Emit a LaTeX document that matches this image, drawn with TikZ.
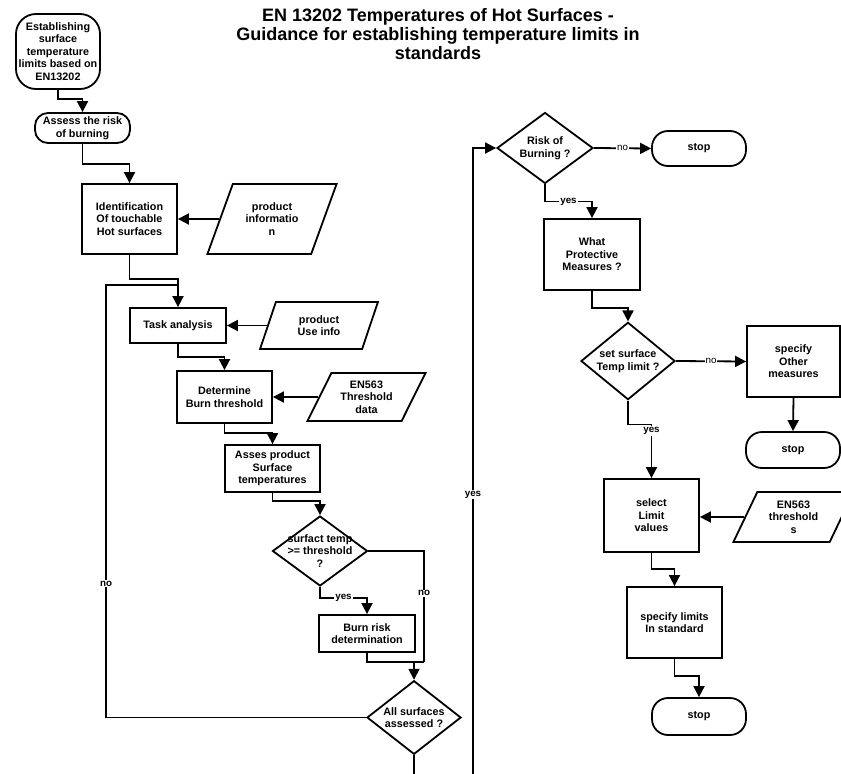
\documentclass[tikz,border=0pt]{standalone}
\usepackage{fontspec}
\setmainfont{Liberation Sans}
\usetikzlibrary{shapes.geometric,arrows.meta}

\begin{document}
\begin{tikzpicture}[x=1pt,y=-1pt,
  boxstyle/.style={rectangle,draw,line width=1.8pt,inner sep=1pt,align=center,
    font=\bfseries\fontsize{10.8}{12.5}\selectfont},
  endstyle/.style={boxstyle,rounded corners=16pt},
  askstyle/.style={diamond,draw,line width=1.8pt,inner sep=0pt,inner xsep=-4pt,align=center,
    font=\bfseries\fontsize{10.8}{12.5}\selectfont},
  datastyle/.style={trapezium,trapezium stretches=true,draw,line width=1.8pt,
    inner sep=1pt,align=center,font=\bfseries\fontsize{10.8}{12.5}\selectfont},
  linkstyle/.style={line width=1.8pt,-{Triangle[length=11pt,width=11pt]}},
  notestyle/.style={fill=white,inner sep=1pt,font=\bfseries\fontsize{9.8}{10}\selectfont}]

 \useasboundingbox (0,0) rectangle (841,774);

 \node[font=\bfseries\fontsize{18}{19}\selectfont,align=center] (title) at (438,34)
   {EN 13202 Temperatures of Hot Surfaces -\\Guidance for establishing temperature limits in\\standards};

 % left column
 \node[endstyle,minimum width=84,minimum height=75,rounded corners=20pt] (start) at (58,51.5)
   {Establishing\\surface\\temperature\\limits based on\\EN13202};
 \node[endstyle,minimum width=95,minimum height=30,rounded corners=13pt] (assess) at (82.5,128)
   {Assess the risk\\of burning};
 \node[boxstyle,minimum width=95,minimum height=70] (ident) at (129.5,219)
   {Identification\\Of touchable\\Hot surfaces};
 \node[datastyle,minimum width=130,minimum height=70,trapezium left angle=63,trapezium right angle=117] (prodinfo) at (272,219)
   {product\\informatio\\n};
 \node[boxstyle,minimum width=96,minimum height=35] (task) at (178,325.5) {Task analysis};
 \node[datastyle,minimum width=118,minimum height=47,trapezium left angle=70,trapezium right angle=110] (useinfo) at (319,325.5)
   {product\\Use info};
 \node[boxstyle,minimum width=95,minimum height=52] (determ) at (224.5,397)
   {Determine\\Burn threshold};
 \node[datastyle,minimum width=119,minimum height=48,trapezium left angle=62,trapezium right angle=118] (thrdata) at (366.5,397)
   {EN563\\Threshold\\data};
 \node[boxstyle,minimum width=95,minimum height=47] (asses) at (272.5,468.5)
   {Asses product\\Surface\\temperatures};
 \node[askstyle,minimum width=95,minimum height=70,inner xsep=-15pt] (surf) at (320,551)
   {surfact temp\\>= threshold\\?};
 \node[boxstyle,minimum width=96,minimum height=37] (burn) at (367,633.5)
   {Burn risk\\determination};
 \node[askstyle,minimum width=94,minimum height=71] (all) at (414,717.5)
   {All surfaces\\assessed ?};

 % right column
 \node[askstyle,minimum width=96,minimum height=71] (risk) at (545,148) {Risk of\\Burning ?};
 \node[endstyle,minimum width=94,minimum height=35] (stop1) at (699,148.5) {stop};
 \node[boxstyle,minimum width=96,minimum height=71] (prot) at (592,254.5)
   {What\\Protective\\Measures ?};
 \node[askstyle,minimum width=94,minimum height=70] (set) at (628,361)
   {set surface\\Temp limit ?};
 \node[boxstyle,minimum width=93,minimum height=71] (other) at (793.5,361.5)
   {specify\\Other\\measures};
 \node[endstyle,minimum width=94,minimum height=36] (stop2) at (793,450) {stop};
 \node[boxstyle,minimum width=95,minimum height=73] (select) at (651.5,515.5)
   {select\\Limit\\values};
 \node[datastyle,minimum width=121,minimum height=50,trapezium left angle=64,trapezium right angle=116] (ththr) at (793.5,517)
   {EN563\\threshold\\s};
 \node[boxstyle,minimum width=95,minimum height=71] (spec) at (674.5,622.5)
   {specify limits\\In standard};
 \node[endstyle,minimum width=94,minimum height=37] (stop3) at (699,716.5) {stop};

 \coordinate (join) at (424,662);
 \coordinate (loop) at (106,285);
 \coordinate (cut1) at (414,777);
 \coordinate (cut2) at (473,777);

 \draw[linkstyle] (start.south) -- ++(0,9) -| (assess.north);
 \draw[linkstyle] (assess.south) -- ++(0,20) -| (ident.north);
 \draw[linkstyle] (prodinfo.left side) -- (ident.east |- prodinfo.left side);
 \draw[linkstyle] (ident.south) -- ++(0,24) -| (task.north);
 \draw[linkstyle] (useinfo.left side) -- (task.east |- useinfo.left side);
 \draw[linkstyle] (task.south) -- ++(0,13) -| (determ.north);
 \draw[linkstyle] (thrdata.left side) -- (determ.east |- thrdata.left side);
 \draw[linkstyle] (determ.south) -- ++(0,9) -| (asses.north);
 \draw[linkstyle] (asses.south) -- ++(0,8) -| (surf.north);
 \draw[linkstyle] (surf.south) -- ++(0,11) -| node[notestyle,pos=0.25] {yes} (burn.north);
 \draw[linkstyle,-] (surf.east) -| node[notestyle,pos=0.69] {no} (join);
 \draw[linkstyle,-] (burn.south) |- (join);
 \draw[linkstyle] (all.north |- join) -- (all.north);
 \draw[linkstyle,-] (all.west) -| node[notestyle,pos=0.655] {no} (loop) -- (task.north |- loop);
 \draw[linkstyle,-] (all.south) -- (cut1);

 \draw[linkstyle] (cut2) |- node[notestyle,pos=0.2245] {yes} (risk.west);
 \draw[linkstyle] (risk.east) -- node[notestyle,font=\fontsize{9.8}{10}\selectfont] {no} (stop1.west);
 \draw[linkstyle] (risk.south) -- ++(0,17) -| node[notestyle,pos=0.25] {yes} (prot.north);
 \draw[linkstyle] (prot.south) -- ++(0,17) -| (set.north);
 \draw[linkstyle] (set.east) -- node[notestyle,font=\fontsize{9.8}{10}\selectfont] {no} (other.west);
 \draw[linkstyle] (other.south) -- (stop2.north);
 \draw[linkstyle] (set.south) -- ++(0,24) -| node[notestyle,pos=0.56] {yes} (select.north);
 \draw[linkstyle] (ththr.left side) -- (select.east |- ththr.left side);
 \draw[linkstyle] (select.south) -- ++(0,16) -| (spec.north);
 \draw[linkstyle] (spec.south) -- ++(0,17) -| (stop3.north);
\end{tikzpicture}
\end{document}
